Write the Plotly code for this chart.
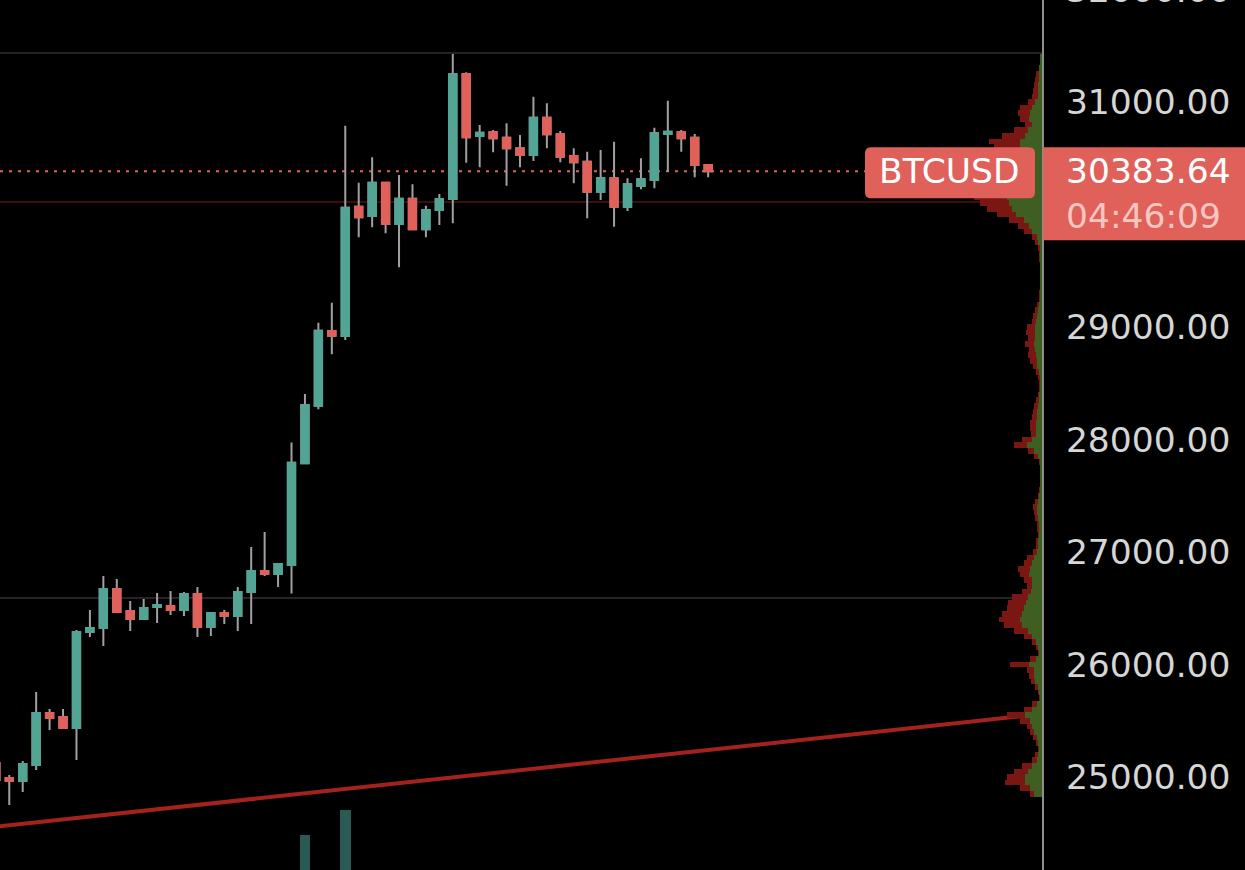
import plotly.graph_objects as go

# ---------------- data ----------------
IDX = list(range(-1, 53))  # candle slots (bar index)
OPEN = [25124, 24991, 24964, 25107, 25569, 25533, 25436, 26289, 26324, 26671,
        26476, 26404, 26511, 26520, 26484, 26627, 26333, 26458, 26431, 26644,
        26831, 26804, 26884, 27788, 28300, 28964, 28920, 30069, 29987, 30283,
        29916, 30141, 29868, 30040, 30138, 31249, 30698, 30731, 30683, 30588,
        30529, 30860, 30713, 30520, 30469, 30203, 30322, 30069, 30253, 30307,
        30716, 30731, 30683, 30440]
HIGH = [25160, 25018, 25142, 25756, 25604, 25604, 26307, 26484, 26787, 26760,
        26564, 26582, 26636, 26653, 26644, 26689, 26467, 26484, 26689, 27044,
        27178, 26902, 27973, 28404, 29038, 29216, 30789, 30283, 30508, 30292,
        30351, 30268, 30078, 30182, 31427, 31264, 30796, 30751, 30811, 30707,
        31047, 30988, 30742, 30588, 30558, 30573, 30647, 30322, 30500, 30772,
        31012, 30751, 30716, 30440]
LOW = [24930, 24751, 24867, 25062, 25418, 25436, 25151, 26244, 26164, 26458,
       26298, 26396, 26369, 26440, 26431, 26244, 26253, 26360, 26298, 26360,
       26787, 26689, 26631, 27782, 28268, 28757, 28884, 29797, 29886, 29833,
       29531, 29868, 29797, 29907, 29922, 30460, 30420, 30553, 30256, 30420,
       30476, 30588, 30464, 30277, 29966, 30129, 29892, 30031, 30224, 30233,
       30380, 30558, 30331, 30331]
CLOSE = [24973, 24964, 25116, 25569, 25524, 25436, 26289, 26324, 26671, 26467,
         26404, 26502, 26529, 26484, 26627, 26333, 26458, 26431, 26644, 26831,
         26804, 26893, 27794, 28307, 28967, 28923, 30060, 29975, 30283, 29916,
         30141, 29868, 30040, 30138, 31246, 30686, 30727, 30678, 30588, 30529,
         30860, 30713, 30514, 30464, 30203, 30322, 30069, 30268, 30313, 30722,
         30736, 30678, 30440, 30383.64]
VOLUME = [420, 380, 350, 610, 300, 280, 720, 260, 540, 330,
          250, 210, 190, 200, 230, 360, 240, 180, 310, 450,
          380, 260, 940, 1350, 980, 520, 1600, 640, 580, 560,
          610, 470, 330, 300, 960, 720, 420, 300, 390, 280,
          460, 380, 330, 290, 410, 300, 420, 270, 220, 430,
          360, 210, 300, 120]

LAST_PRICE = 30383.64
SYMBOL = "BTCUSD"
COUNTDOWN = "04:46:09"
PRICE_TICKS = [25000, 26000, 27000, 28000, 29000, 30000, 31000]
TOP_TICK = 32000

# horizontal levels drawn on the chart
GRAY_LEVELS = [31436, 26591]
RED_LEVEL = 30111

# trend line anchor points (bar index, price)
TREND_X = [-2, 75.3]
TREND_Y = [24546, 25540]

# visible-range volume profile, rows of 50 USD
PROFILE_PRICE = list(range(24850, 31450, 50))
PROFILE_UP = [8, 12, 17, 17, 14, 10, 5, 4, 3, 4,
              5, 8, 10, 12, 17, 10, 5, 2, 3, 4,
              7, 8, 8, 13, 6, 3, 4, 6, 10, 14,
              20, 22, 20, 18, 16, 14, 11, 10, 10, 13,
              12, 10, 8, 5, 4, 4, 3, 3, 3, 4,
              5, 5, 4, 3, 2, 2, 2, 2, 2, 2,
              4, 8, 15, 10, 6, 6, 6, 5, 5, 4,
              3, 3, 2, 2, 2, 3, 5, 5, 6, 7,
              8, 7, 7, 7, 6, 5, 4, 3, 2, 2,
              2, 2, 2, 2, 2, 2, 2, 2, 4, 5,
              10, 13, 18, 26, 30, 33, 35, 34, 32, 30,
              30, 28, 28, 26, 24, 22, 22, 17, 14, 10,
              13, 12, 10, 7, 4, 4, 4, 3, 3, 3,
              2, 2]
PROFILE_DOWN = [4, 10, 20, 18, 14, 10, 5, 3, 1, 2,
                4, 4, 5, 10, 18, 8, 5, 1, 1, 3,
                4, 5, 7, 19, 6, 1, 2, 4, 8, 14,
                18, 21, 20, 17, 18, 16, 9, 5, 8, 9,
                12, 8, 7, 4, 2, 2, 1, 2, 2, 3,
                3, 4, 3, 1, 1, 0, 0, 0, 0, 1,
                4, 6, 13, 10, 5, 6, 6, 5, 4, 4,
                3, 1, 1, 1, 2, 3, 4, 7, 8, 6,
                9, 7, 9, 8, 4, 4, 3, 2, 1, 1,
                0, 0, 0, 0, 0, 1, 1, 2, 3, 5,
                8, 11, 15, 19, 25, 29, 33, 32, 32, 32,
                32, 32, 30, 29, 26, 26, 31, 23, 14, 7,
                9, 12, 12, 7, 6, 5, 4, 4, 3, 0,
                0, 0]

# ---------------- style ----------------
BG = "#000000"
UP = "#52a595"
DOWN = "#e0605a"
WICK = "#a0a0a4"
VOL_UP = "#2b5a54"
VOL_DOWN = "#5e2624"
PROF_UP = "#3e5e22"
PROF_DOWN = "#7a1712"
TREND = "#a3221c"
AXIS = "#8e8e8e"
TEXT = "#d6d6d6"
LABEL_BG = "#e0605a"
FONT = "DejaVu Sans"
FS = 34.5
Y_RANGE = [24173.3, 31906.7]

fig = go.Figure()

# volume profile (right side, growing leftwards from the price axis)
fig.add_trace(go.Bar(y=PROFILE_PRICE, x=PROFILE_UP, orientation="h",
                     xaxis="x3", yaxis="y", width=50,
                     marker=dict(color=PROF_UP, line=dict(width=0)),
                     hoverinfo="skip"))
fig.add_trace(go.Bar(y=PROFILE_PRICE, x=PROFILE_DOWN, orientation="h",
                     xaxis="x3", yaxis="y", width=50,
                     marker=dict(color=PROF_DOWN, line=dict(width=0)),
                     hoverinfo="skip"))

# volume bars (pane mostly below the visible area)
vol_colors = [VOL_UP if c >= o else VOL_DOWN for o, c in zip(OPEN, CLOSE)]
fig.add_trace(go.Bar(x=IDX, y=VOLUME, yaxis="y2", width=0.8,
                     marker=dict(color=vol_colors, line=dict(width=0)),
                     hoverinfo="skip"))

# trend line
fig.add_trace(go.Scatter(x=TREND_X, y=TREND_Y, mode="lines",
                         line=dict(color=TREND, width=4), hoverinfo="skip"))

# candles: gray wicks, then coloured bodies on top
fig.add_trace(go.Candlestick(
    x=IDX, open=OPEN, high=HIGH, low=LOW, close=CLOSE,
    increasing=dict(line=dict(color=WICK, width=2), fillcolor=WICK),
    decreasing=dict(line=dict(color=WICK, width=2), fillcolor=WICK),
    hoverinfo="skip"))
body_hi = [max(o, c) for o, c in zip(OPEN, CLOSE)]
body_lo = [min(o, c) for o, c in zip(OPEN, CLOSE)]
fig.add_trace(go.Candlestick(
    x=IDX, open=OPEN, high=body_hi, low=body_lo, close=CLOSE,
    increasing=dict(line=dict(color=UP, width=2), fillcolor=UP),
    decreasing=dict(line=dict(color=DOWN, width=2), fillcolor=DOWN),
    hoverinfo="skip"))

shapes = []
for lv in GRAY_LEVELS:
    shapes.append(dict(type="line", xref="paper", x0=0, x1=1, yref="y", y0=lv, y1=lv,
                       line=dict(color="#242428", width=2), layer="below"))
shapes.append(dict(type="line", xref="paper", x0=0, x1=1, yref="y", y0=RED_LEVEL, y1=RED_LEVEL,
                   line=dict(color="#3e0d0b", width=2), layer="below"))
shapes.append(dict(type="line", xref="paper", x0=0, x1=1, yref="y", y0=LAST_PRICE, y1=LAST_PRICE,
                   line=dict(color=DOWN, width=2, dash="3px,6px"), layer="below"))


def rounded(x0, y0, x1, y1, r):
    return (f"M{x0+r},{y0} L{x1-r},{y0} Q{x1},{y0} {x1},{y0+r} "
            f"L{x1},{y1-r} Q{x1},{y1} {x1-r},{y1} L{x0+r},{y1} "
            f"Q{x0},{y1} {x0},{y1-r} L{x0},{y0+r} Q{x0},{y0} {x0+r},{y0} Z")


# symbol label box (left of price axis)
shapes.append(dict(type="path", xref="paper", yref="y",
                   xsizemode="pixel", ysizemode="pixel",
                   xanchor=1, yanchor=LAST_PRICE,
                   path=rounded(-177, -27, -7, 24, 6),
                   fillcolor=LABEL_BG, line=dict(width=0), layer="above"))
# price label box (on price axis)
shapes.append(dict(type="rect", xref="paper", yref="y",
                   xsizemode="pixel", ysizemode="pixel",
                   xanchor=1, yanchor=LAST_PRICE,
                   x0=1, x1=215, y0=-69, y1=24,
                   fillcolor=LABEL_BG, line=dict(width=0), layer="above"))

top_frac = (TOP_TICK - Y_RANGE[0]) / (Y_RANGE[1] - Y_RANGE[0])
annotations = [
    dict(text=SYMBOL, xref="paper", x=1, xshift=-93, yref="y", y=LAST_PRICE,
         xanchor="center", yanchor="middle", showarrow=False,
         font=dict(family=FONT, size=FS, color="#ffffff")),
    dict(text=f"{LAST_PRICE:.2f}<br><span style='color:#f6c6c1'>{COUNTDOWN}</span>",
         xref="paper", x=1, xshift=22, yref="y", y=LAST_PRICE, yshift=-22,
         xanchor="left", yanchor="middle", align="left", showarrow=False,
         font=dict(family=FONT, size=FS, color="#ffffff")),
    dict(text=f"{TOP_TICK:.2f}", xref="paper", x=1, xshift=22, yref="paper", y=top_frac,
         xanchor="left", yanchor="middle", showarrow=False,
         font=dict(family=FONT, size=FS, color=TEXT)),
]

fig.update_layout(
    width=1245, height=870,
    margin=dict(l=0, r=203, t=0, b=0, pad=0),
    paper_bgcolor=BG, plot_bgcolor=BG,
    showlegend=False,
    barmode="stack",
    boxgap=0.22,
    xaxis=dict(range=[-0.69, 76.84], visible=False, rangeslider=dict(visible=False)),
    xaxis3=dict(overlaying="x", range=[1042, 0], visible=False),
    yaxis=dict(range=Y_RANGE, side="right",
               tickvals=PRICE_TICKS, tickformat=".2f",
               showgrid=False, zeroline=False,
               showline=True, linecolor=AXIS, linewidth=2,
               ticks="", ticklabelstandoff=15,
               tickfont=dict(family=FONT, size=FS, color=TEXT)),
    yaxis2=dict(overlaying="y", range=[1000, 9700], visible=False),
    shapes=shapes,
    annotations=annotations,
)

fig.write_html("out.html",
               config={"displayModeBar": False},
               post_script="document.body.style.margin='0px';"
                           "document.body.style.background='#000';")
